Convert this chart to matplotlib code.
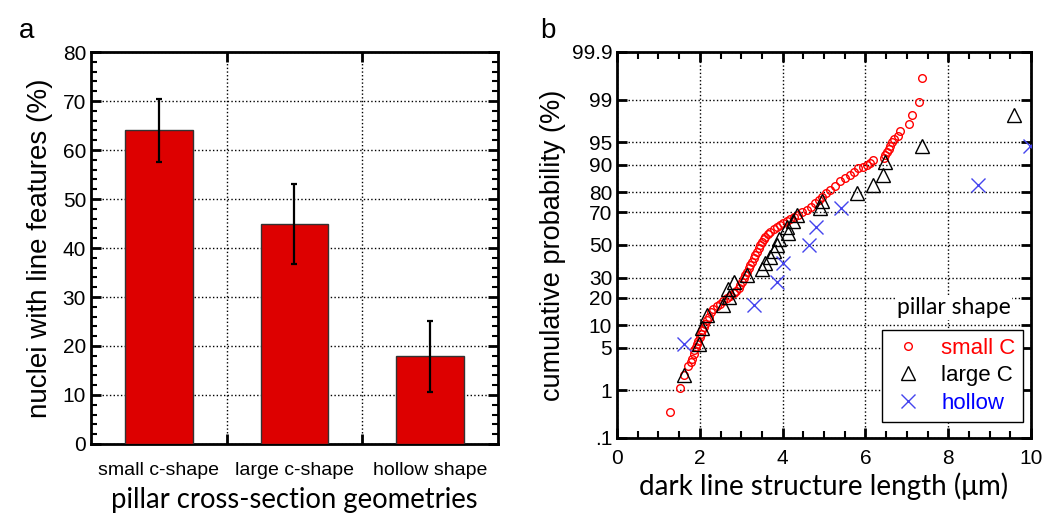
import numpy as np
import matplotlib
matplotlib.use('Agg')
import matplotlib.pyplot as plt
from matplotlib.ticker import MultipleLocator, FixedLocator, NullLocator
from statistics import NormalDist

plt.rcParams['font.family'] = ['Liberation Sans', 'DejaVu Sans']

# panel a data
categories = ['small c-shape', 'large c-shape', 'hollow shape']
fractions = [64.0, 44.9, 17.9]
frac_err = [6.4, 8.1, 7.2]

# panel b data: (length in um, cumulative probability in %)
small_x = [1.28, 1.53, 1.62, 1.71, 1.78, 1.81, 1.85, 1.87, 1.90, 1.93, 1.96, 2.00, 2.03,
           2.05, 2.09, 2.13, 2.17, 2.21, 2.27, 2.33, 2.41, 2.49, 2.57, 2.65, 2.72, 2.82,
           2.88, 2.94, 2.98, 3.02, 3.06, 3.10, 3.14, 3.18, 3.22, 3.26, 3.30, 3.34, 3.38,
           3.42, 3.46, 3.50, 3.54, 3.58, 3.64, 3.70, 3.78, 3.86, 3.94, 4.02, 4.10, 4.18,
           4.28, 4.38, 4.48, 4.59, 4.69, 4.79, 4.87, 4.95, 5.05, 5.15, 5.27, 5.39, 5.51,
           5.63, 5.73, 5.83, 5.93, 6.03, 6.12, 6.19, 6.44, 6.48, 6.52, 6.56, 6.60, 6.64,
           6.70, 6.79, 6.84, 7.05, 7.13, 7.29, 7.37]
small_y = [0.37, 1.1, 1.9, 2.6, 3.1, 3.4, 4.0, 4.6, 5.1, 5.7, 6.3, 7.0, 7.8,
           8.7, 9.5, 10.4, 11.4, 12.5, 14.0, 15.4, 16.4, 17.4, 18.5, 19.6, 20.7, 21.9,
           23.1, 24.3, 26.1, 27.9, 29.7, 31.5, 33.4, 35.4, 37.4, 39.4, 41.5, 43.6, 45.7,
           47.9, 50.0, 52.0, 53.6, 55.3, 56.9, 58.4, 60.0, 61.5, 62.8, 64.0, 65.0, 66.0,
           67.2, 68.5, 69.9, 71.3, 73.0, 74.8, 76.5, 78.1, 79.6, 81.1, 82.9, 84.6, 85.7,
           86.8, 87.9, 89.0, 89.5, 90.0, 90.6, 91.3, 91.9, 92.5, 93.2, 93.8, 94.4, 95.0,
           95.5, 95.9, 96.6, 97.4, 98.1, 98.9, 99.62]

large_x = [1.61, 1.99, 2.05, 2.17, 2.57, 2.71, 2.67, 2.82, 3.14, 3.50, 3.58, 3.70, 3.80,
           3.86, 3.92, 4.14, 4.10, 4.26, 4.34, 4.91, 4.95, 5.79, 6.19, 6.42, 6.48, 7.36, 9.60]
large_y = [1.85, 5.6, 9.3, 13.0, 16.7, 20.4, 24.1, 27.8, 31.5, 35.2, 38.9, 42.6, 46.3,
           50.0, 53.7, 57.4, 61.1, 64.8, 68.5, 72.2, 75.9, 79.6, 83.3, 87.0, 90.7, 94.4, 98.1]

hollow_x = [1.61, 3.30, 3.86, 4.02, 4.63, 4.81, 5.41, 8.73, 9.98]
hollow_y = [5.6, 16.7, 27.8, 38.9, 50.0, 61.1, 72.2, 83.3, 94.4]

prob_ticks = [0.1, 1, 5, 10, 20, 30, 50, 70, 80, 90, 95, 99, 99.9]
prob_labels = ['.1', '1', '5', '10', '20', '30', '50', '70', '80', '90', '95', '99', '99.9']

nd = NormalDist()


def probit(p):
    p = np.clip(np.asarray(p, dtype=float) / 100.0, 1e-9, 1 - 1e-9)
    return np.vectorize(nd.inv_cdf, otypes=[float])(p)


def probit_inv(z):
    return np.vectorize(nd.cdf, otypes=[float])(np.asarray(z, dtype=float)) * 100.0


fig = plt.figure(figsize=(10.43, 5.14), dpi=100)

# ---------------- panel a
ax1 = fig.add_axes([0.0872, 0.1362, 0.3903, 0.7626])
xpos = np.arange(len(categories)) + 0.5
ax1.bar(xpos, fractions, width=0.5, color='#dd0000', edgecolor='#333333', linewidth=1, zorder=3)
ax1.errorbar(xpos, fractions, yerr=frac_err, fmt='none', ecolor='black', elinewidth=1.6,
             capsize=2.5, capthick=1.6, zorder=4)
ax1.set_xlim(0, 3)
ax1.set_ylim(0, 80)
ax1.xaxis.set_major_locator(FixedLocator([1, 2]))
ax1.xaxis.set_minor_locator(FixedLocator(list(xpos)))
ax1.set_xticklabels([])
ax1.set_xticklabels(categories, minor=True, fontsize=14)
ax1.tick_params(axis='x', which='minor', length=0, pad=13)
ax1.yaxis.set_major_locator(MultipleLocator(10))
ax1.yaxis.set_minor_locator(MultipleLocator(2))
ax1.tick_params(axis='y', which='major', labelsize=15)
ax1.tick_params(which='major', direction='in', length=7, width=2, top=True, right=True)
ax1.tick_params(which='minor', direction='in', width=1.5, top=False, right=True)
ax1.tick_params(axis='y', which='minor', length=4)
ax1.grid(True, which='major', color='black', linestyle=':', linewidth=1, zorder=0)
for s in ax1.spines.values():
    s.set_linewidth(2)
ax1.set_ylabel('nuclei with line features (%)', fontsize=20, labelpad=7)
ax1.set_xlabel('pillar cross-section geometries', fontsize=19.8, family=['Lato', 'DejaVu Sans'],
               labelpad=6)
fig.text(0.018, 0.94, 'a', fontsize=20, va='center')

# ---------------- panel b
ax2 = fig.add_axes([0.5916, 0.1479, 0.3969, 0.7510])
ax2.set_yscale('function', functions=(probit, probit_inv))
ax2.set_xlim(0, 10)
ax2.set_ylim(0.1, 99.9)
ax2.plot(small_x, small_y, linestyle='none', marker='o', markersize=5.5, markerfacecolor='none',
         markeredgecolor='red', markeredgewidth=1, label='small C', zorder=3)
ax2.plot(large_x, large_y, linestyle='none', marker='^', markersize=10.5, markerfacecolor='none',
         markeredgecolor='black', markeredgewidth=1, label='large C', zorder=3)
ax2.plot(hollow_x, hollow_y, linestyle='none', marker='x', markersize=10.5,
         markeredgecolor='#4444ee', markeredgewidth=1, label='hollow', zorder=3)
ax2.yaxis.set_major_locator(FixedLocator(prob_ticks))
ax2.yaxis.set_minor_locator(NullLocator())
ax2.set_yticklabels(prob_labels)
ax2.xaxis.set_major_locator(MultipleLocator(2))
ax2.xaxis.set_minor_locator(MultipleLocator(0.5))
ax2.tick_params(which='major', direction='in', length=7, width=2, top=True, right=True, labelsize=15)
ax2.tick_params(axis='x', which='major', pad=8)
ax2.tick_params(which='minor', direction='in', length=5, width=1.5, top=True, right=False)
ax2.grid(True, which='major', color='black', linestyle=':', linewidth=1, zorder=0)
for s in ax2.spines.values():
    s.set_linewidth(2)
ax2.set_ylabel('cumulative probability (%)', fontsize=19.5, labelpad=4)
ax2.set_xlabel('dark line structure length (μm)', fontsize=20, family=['Lato', 'DejaVu Sans'],
               labelpad=3)
leg = ax2.legend(loc='lower right', bbox_to_anchor=(0.997, 0.025), fontsize=16, frameon=True,
                 fancybox=False, edgecolor='black', framealpha=1, handletextpad=0.7,
                 borderpad=0.35, labelspacing=0.3, handlelength=1.6, borderaxespad=0.3)
leg.get_frame().set_linewidth(1)
for t, c in zip(leg.get_texts(), ['red', 'black', 'blue']):
    t.set_color(c)
ax2.text(0.814, 0.337, 'pillar shape', transform=ax2.transAxes, fontsize=16.5,
         family=['Lato', 'DejaVu Sans'], ha='center', va='center', zorder=5,
         bbox=dict(facecolor='white', edgecolor='none', pad=1))
fig.text(0.518, 0.94, 'b', fontsize=20, va='center')

fig.savefig('out.png', dpi=100)
